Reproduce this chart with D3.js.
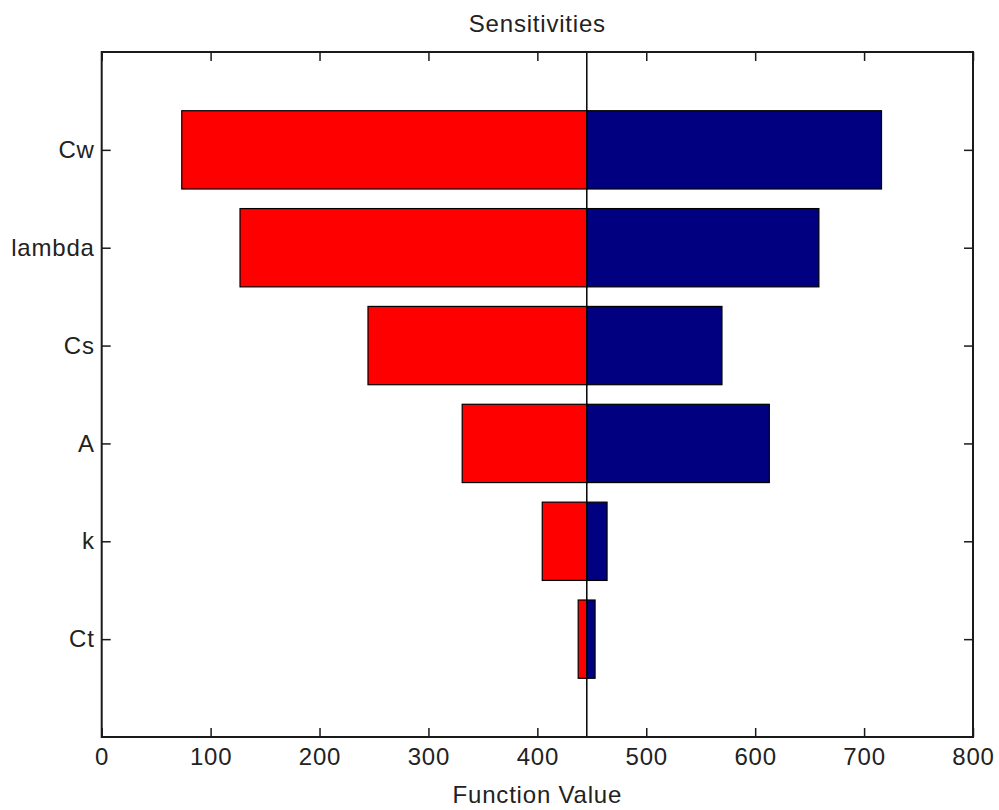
<!DOCTYPE html>
<html>
<head>
<meta charset="utf-8">
<script src="https://cdn.jsdelivr.net/npm/d3@7"></script>
<style>
  html, body { margin: 0; padding: 0; background: #fff; }
  svg text { font-family: "Liberation Sans", Arial, sans-serif; fill: #222; letter-spacing: 0.8px; }
</style>
</head>
<body>
<svg id="chart" width="999" height="810"></svg>
<script>
// ---- data ----
const categories = ["Cw", "lambda", "Cs", "A", "k", "Ct"];
const lowValues  = [73.5, 127, 244.5, 331, 404.5, 437.5];
const highValues = [716, 658.5, 569.5, 613, 464, 453];
const baseValue  = 445.4;
const xTicks = [0, 100, 200, 300, 400, 500, 600, 700, 800];
const title = "Sensitivities";
const xLabel = "Function Value";

// ---- layout ----
const W = 999, H = 810;
const m = { left: 101.7, right: W - 973, top: 52, bottom: H - 737 };
const iw = W - m.left - m.right, ih = H - m.top - m.bottom;
const fs = 24;
const tickLen = 9;

const svg = d3.select("#chart");
const g = svg.append("g").attr("transform", `translate(${m.left},${m.top})`);

const x = d3.scaleLinear().domain([0, 800]).range([0, iw]);
const y = d3.scaleLinear().domain([0, categories.length + 1]).range([0, ih]);
const barH = y(0.8) - y(0);

// red bars (low side)
g.selectAll("rect.low").data(categories).join("rect")
  .attr("class", "low")
  .attr("x", (d, i) => x(lowValues[i]))
  .attr("y", (d, i) => y(i + 1) - barH / 2)
  .attr("width", (d, i) => x(baseValue) - x(lowValues[i]))
  .attr("height", barH)
  .attr("fill", "#ff0000")
  .attr("stroke", "#000")
  .attr("stroke-width", 1.2);

// blue bars (high side)
g.selectAll("rect.high").data(categories).join("rect")
  .attr("class", "high")
  .attr("x", x(baseValue))
  .attr("y", (d, i) => y(i + 1) - barH / 2)
  .attr("width", (d, i) => x(highValues[i]) - x(baseValue))
  .attr("height", barH)
  .attr("fill", "#000080")
  .attr("stroke", "#000")
  .attr("stroke-width", 1.2);

// base line
g.append("line")
  .attr("x1", x(baseValue)).attr("x2", x(baseValue))
  .attr("y1", 0).attr("y2", ih)
  .attr("stroke", "#000").attr("stroke-width", 1.5);

// axes (ticks inward)
const axisStyle = sel => {
  sel.select(".domain").remove();
  sel.selectAll(".tick line").attr("stroke", "#1a1a1a").attr("stroke-width", 1.5);
  sel.selectAll(".tick text").attr("font-size", fs).attr("fill", "#222")
     .attr("font-family", "\"Liberation Sans\", Arial, sans-serif");
};

const xb = g.append("g").attr("transform", `translate(0,${ih})`)
  .call(d3.axisBottom(x).tickValues(xTicks).tickFormat(d3.format("d")).tickSizeInner(-tickLen).tickSizeOuter(0).tickPadding(11));
axisStyle(xb);

const xt = g.append("g")
  .call(d3.axisTop(x).tickValues(xTicks).tickFormat("").tickSizeInner(-tickLen).tickSizeOuter(0));
axisStyle(xt);

const yPos = categories.map((d, i) => i + 1);
const yl = g.append("g")
  .call(d3.axisLeft(y).tickValues(yPos).tickFormat((d) => categories[d - 1]).tickSizeInner(-tickLen).tickSizeOuter(0).tickPadding(7));
axisStyle(yl);

const yr = g.append("g").attr("transform", `translate(${iw},0)`)
  .call(d3.axisRight(y).tickValues(yPos).tickFormat("").tickSizeInner(-tickLen).tickSizeOuter(0));
axisStyle(yr);

// box
g.append("rect").attr("x", 0).attr("y", 0).attr("width", iw).attr("height", ih)
  .attr("fill", "none").attr("stroke", "#1a1a1a").attr("stroke-width", 2);

// title & x label
svg.append("text").attr("x", m.left + iw / 2).attr("y", 32)
  .attr("text-anchor", "middle").attr("font-size", fs).text(title);
svg.append("text").attr("x", m.left + iw / 2).attr("y", 803)
  .attr("text-anchor", "middle").attr("font-size", fs).text(xLabel);
</script>
</body>
</html>
